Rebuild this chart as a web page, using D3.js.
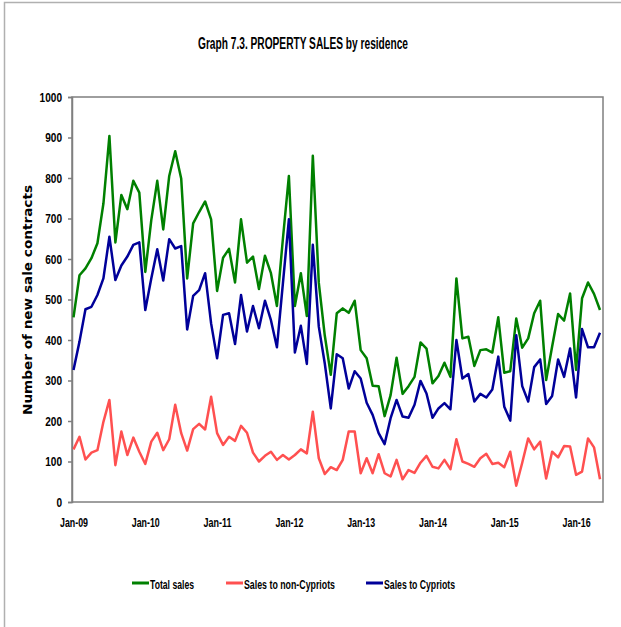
<!DOCTYPE html>
<html><head><meta charset="utf-8">
<script src="https://cdn.jsdelivr.net/npm/d3@7"></script>
<style>body{margin:0;background:#fff}svg{display:block}</style>
</head><body>
<svg id="chart" width="621" height="627"></svg>
<script>
const title = "Graph 7.3. PROPERTY SALES by residence";
const yTitle = "Number of new sale contracts";
const seriesNames = ["Total sales", "Sales to non-Cypriots", "Sales to Cypriots"];
const xTickLabels = ["Jan-09","Jan-10","Jan-11","Jan-12","Jan-13","Jan-14","Jan-15","Jan-16"];
const yTicks = [0,100,200,300,400,500,600,700,800,900,1000];
// Monthly, Jan-09 .. May-16
const totalSales = [456,560,577,602,639,737,904,641,758,723,793,764,568,696,793,673,805,866,799,552,688,716,742,698,521,603,625,542,698,591,606,526,608,565,484,650,805,484,565,459,855,541,411,314,466,478,467,497,375,355,287,286,212,264,356,267,286,309,394,379,293,311,344,309,552,404,408,336,375,377,369,456,319,323,453,381,404,466,497,301,384,464,448,515,326,503,542,514,474];
const nonCypriots = [130,161,105,122,128,198,252,91,174,116,159,124,94,149,171,128,155,240,170,127,180,193,179,260,170,141,161,151,188,171,122,100,114,124,104,116,105,116,130,120,223,108,69,86,79,104,174,174,71,108,71,118,71,63,104,56,79,72,97,114,87,83,104,81,155,100,94,87,108,119,94,97,86,124,40,97,157,130,149,58,124,110,138,137,67,75,157,135,56];
const cypriots = [326,396,476,482,511,552,655,548,584,606,635,641,474,552,624,547,649,626,632,426,509,523,565,441,355,462,466,390,511,421,484,429,497,449,382,540,698,369,435,341,635,433,342,231,365,355,280,323,305,245,215,170,143,207,252,211,208,240,299,268,208,231,244,229,400,305,316,248,267,258,278,359,235,201,412,286,248,333,352,242,262,352,309,379,258,427,382,382,418];
const colors = ["#008000","#FF5050","#000099"];

const svg = d3.select("#chart");
const L = 72, R = 603, T = 97, B = 502;
const x = d3.scaleLinear().domain([0, totalSales.length - 1]).range([73.5, 600]);
const y = d3.scaleLinear().domain([0, 1000]).range([B, T]);
const font = "'Liberation Sans', Arial, sans-serif";

// outer border (partially visible)
svg.append("path").attr("d", "M4.5,640 V2.5 H640").attr("fill", "none").attr("stroke", "#b0b0b0").attr("stroke-width", 1.5);

// title
svg.append("text").attr("x", 303).attr("y", 48.5).attr("text-anchor", "middle")
  .attr("font-family", font).attr("font-weight", "bold").attr("font-size", 16)
  .attr("textLength", 210).attr("lengthAdjust", "spacingAndGlyphs").attr("fill", "#000").text(title);

// plot frame
svg.append("rect").attr("x", L).attr("y", T).attr("width", R - L).attr("height", B - T)
  .attr("fill", "none").attr("stroke", "#7f7f7f").attr("stroke-width", 1.5);

// y axis
const yAxis = d3.axisLeft(y).tickValues(yTicks).tickSize(4).tickPadding(6).tickFormat(d3.format("d"));
const gy = svg.append("g").attr("transform", `translate(${L},0)`).call(yAxis);
gy.select(".domain").attr("stroke", "#7f7f7f").attr("stroke-width", 1.5);
gy.selectAll(".tick line").attr("stroke", "#7f7f7f").attr("stroke-width", 1.5);
gy.selectAll(".tick text").attr("font-family", font).attr("font-weight", "bold").attr("font-size", 13.5)
  .attr("fill", "#000").attr("lengthAdjust", "spacingAndGlyphs")
  .attr("textLength", d => String(d).length * 5.6);

// x axis labels
const xAxis = d3.axisBottom(x).tickValues(xTickLabels.map((d, i) => i * 12)).tickSize(0).tickPadding(16)
  .tickFormat((d, i) => xTickLabels[i]);
const gx = svg.append("g").attr("transform", `translate(0,${B})`).call(xAxis);
gx.select(".domain").remove();
gx.selectAll(".tick text").attr("font-family", font).attr("font-weight", "bold").attr("font-size", 13)
  .attr("fill", "#000").attr("textLength", 28).attr("lengthAdjust", "spacingAndGlyphs");

// y title
svg.append("text").attr("transform", "translate(32,300) rotate(-90)").attr("text-anchor", "middle")
  .attr("font-family", "'DejaVu Sans', sans-serif").attr("font-weight", "bold").attr("font-size", 12.5)
  .attr("textLength", 230).attr("lengthAdjust", "spacingAndGlyphs").attr("fill", "#000").text(yTitle);

// lines
const line = d3.line().x((d, i) => x(i)).y(d => y(d));
const series = [totalSales, nonCypriots, cypriots];
[0, 2, 1].forEach(k => {
  svg.append("path").datum(series[k]).attr("d", line).attr("fill", "none")
    .attr("stroke", colors[k]).attr("stroke-width", 2.5).attr("stroke-linejoin", "round");
});

// legend
const legendPos = [{lx: 132, tx: 150, w: 44}, {lx: 226, tx: 244, w: 91}, {lx: 366, tx: 384, w: 71}];
seriesNames.forEach((name, k) => {
  const p = legendPos[k];
  svg.append("line").attr("x1", p.lx).attr("x2", p.lx + 17).attr("y1", 583).attr("y2", 583)
    .attr("stroke", colors[k]).attr("stroke-width", 3);
  svg.append("text").attr("x", p.tx).attr("y", 588.5).attr("font-family", font).attr("font-weight", "bold")
    .attr("font-size", 13).attr("textLength", p.w).attr("lengthAdjust", "spacingAndGlyphs").attr("fill", "#000").text(name);
});
</script>
</body></html>
